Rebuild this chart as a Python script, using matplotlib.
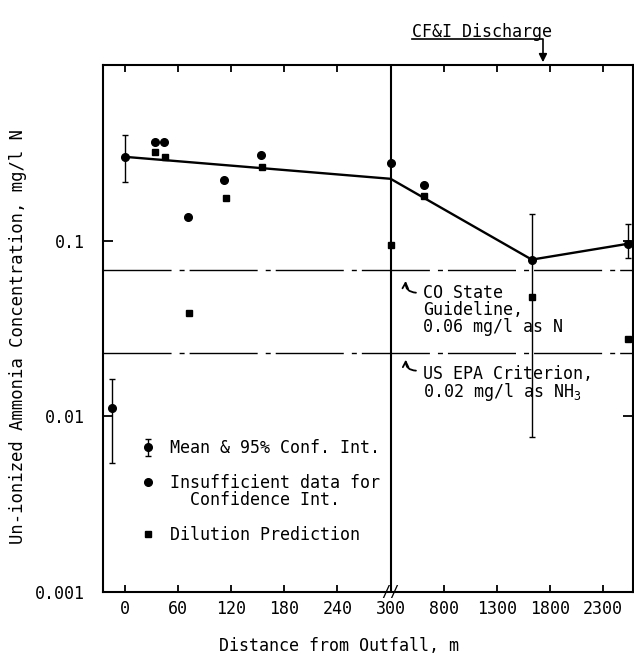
import numpy as np
import matplotlib
matplotlib.use('Agg')
import matplotlib.pyplot as plt
from matplotlib.lines import Line2D
from matplotlib.ticker import FixedLocator, FixedFormatter, NullLocator

plt.rcParams['font.family'] = ['DejaVu Sans Mono', 'DejaVu Sans']
plt.rcParams['mathtext.fontset'] = 'custom'
plt.rcParams['mathtext.rm'] = 'DejaVu Sans Mono'
plt.rcParams['mathtext.it'] = 'DejaVu Sans Mono'
plt.rcParams['font.size'] = 12

# ---------------- data ----------------
mean_x = [-15, 0, 1630, 2535]
mean_y = [0.0111, 0.30, 0.078, 0.096]
mean_lo = [0.0054, 0.216, 0.0076, 0.080]
mean_hi = [0.0164, 0.40, 0.142, 0.125]

trend_x = [0, 300, 1630, 2535]
trend_y = [0.30, 0.225, 0.078, 0.096]

insuff_x = [34, 44, 71, 112, 154, 300, 617]
insuff_y = [0.366, 0.366, 0.137, 0.221, 0.308, 0.277, 0.207]

dil_x = [34, 45, 72, 114, 155, 300, 617, 1630, 2535]
dil_y = [0.318, 0.300, 0.039, 0.176, 0.263, 0.0946, 0.180, 0.0476, 0.0277]

co_guideline = 0.068
epa_criterion = 0.023
discharge_x = 1735

xticks = [0, 60, 120, 180, 240, 300, 800, 1300, 1800, 2300]
xtick_labels = ['0', '60', '120', '180', '240', '300', '800', '1300', '1800', '2300']
yticks = [0.001, 0.01, 0.1]
ytick_labels = ['0.001', '0.01', '0.1']

BREAK = 300.0
FACTOR = 60.0 / 500.0


def fwd(x):
    x = np.asarray(x, dtype=float)
    return np.where(x <= BREAK, x, BREAK + (x - BREAK) * FACTOR)


def inv(u):
    u = np.asarray(u, dtype=float)
    return np.where(u <= BREAK, u, BREAK + (u - BREAK) / FACTOR)


fig = plt.figure(figsize=(6.34, 6.56), dpi=100)
ax = fig.add_axes([103 / 634, 1 - 592 / 656, 530 / 634, 527 / 656])
ax.set_xscale('function', functions=(fwd, inv))
ax.set_yscale('log')
ax.set_xlim(-25, 2583)
ax.set_ylim(0.001, 1.0)

# reference lines
dash = (49, 5.8, 3.6, 3.6)
ax.axhline(co_guideline, color='k', lw=1.0, dashes=dash)
ax.axhline(epa_criterion, color='k', lw=1.0, dashes=dash)
ax.axvline(BREAK, color='k', lw=1.5)

# trend line
ax.plot(trend_x, trend_y, color='k', lw=1.7, zorder=3)

# data
yerr = [np.array(mean_y) - np.array(mean_lo), np.array(mean_hi) - np.array(mean_y)]
h_mean = ax.errorbar(mean_x, mean_y, yerr=yerr, fmt='o', color='k', ms=5.5,
                     elinewidth=1.0, capsize=2.4, capthick=1.0, zorder=4)
h_ins, = ax.plot(insuff_x, insuff_y, 'o', color='k', ms=5.5, zorder=4)
h_dil, = ax.plot(dil_x, dil_y, 's', color='k', ms=4.6, zorder=4)

# axes styling
for s in ax.spines.values():
    s.set_linewidth(1.5)
ax.xaxis.set_major_locator(FixedLocator(xticks))
ax.xaxis.set_major_formatter(FixedFormatter(xtick_labels))
ax.xaxis.set_minor_locator(NullLocator())
ax.yaxis.set_major_locator(FixedLocator(yticks))
ax.yaxis.set_major_formatter(FixedFormatter(ytick_labels))
ax.yaxis.set_minor_locator(NullLocator())
ax.tick_params(axis='x', which='major', direction='in', top=True, bottom=True,
               length=5, width=1.3, pad=6, labelsize=12)
ax.tick_params(axis='y', which='major', direction='in', left=True, right=True,
               length=7, width=1.3, pad=13, labelsize=12)

ax.set_xlabel('Distance from Outfall, m', fontsize=12)
ax.xaxis.set_label_coords(0.445, -0.085)
ax.set_ylabel('Un-ionized Ammonia Concentration, mg/l N', fontsize=12.4)
ax.yaxis.set_label_coords(-0.143, 0.485)

# axis break mark
ax.text(BREAK, 0.001, '//', ha='center', va='center', fontsize=11,
        clip_on=False, zorder=6)

# guideline annotations
ax.annotate('', xy=(445, 0.0612), xytext=(565, 0.0505),
            arrowprops=dict(arrowstyle='->', color='k', lw=1.3,
                            connectionstyle='arc3,rad=-0.6', mutation_scale=10))
ax.text(605, 0.0565, 'CO State\nGuideline,\n0.06 mg/l as N', ha='left', va='top',
        fontsize=12, linespacing=0.93)
ax.annotate('', xy=(445, 0.0218), xytext=(565, 0.0182),
            arrowprops=dict(arrowstyle='->', color='k', lw=1.3,
                            connectionstyle='arc3,rad=-0.6', mutation_scale=10))
ax.text(605, 0.0197, 'US EPA Criterion,\n0.02 mg/l as NH$_3$', ha='left', va='top',
        fontsize=12, linespacing=0.88)

# CF&I discharge label with underline & arrow
ax.text(502, 1.44, 'CF&I Discharge', ha='left', va='baseline', fontsize=12,
        clip_on=False)
ax.plot([502, discharge_x, discharge_x], [1.397, 1.397, 1.17], color='k', lw=1.2,
        clip_on=False)
ax.annotate('', xy=(discharge_x, 1.0), xytext=(discharge_x, 1.2),
            arrowprops=dict(arrowstyle='-|>', color='k', lw=1.2, mutation_scale=12),
            annotation_clip=False)

# legend
blank = Line2D([], [], linestyle='none')
leg = ax.legend([h_mean, blank, h_ins, blank, blank, h_dil],
                ['Mean & 95% Conf. Int.', ' ', 'Insufficient data for',
                 '  Confidence Int.', ' ', 'Dilution Prediction'],
                loc='upper left', bbox_to_anchor=(0.07, 0.29), frameon=False,
                handlelength=1.0, handletextpad=0.8, labelspacing=-0.04,
                borderpad=0, borderaxespad=0, numpoints=1, fontsize=12)

fig.savefig('out.png', dpi=100, facecolor='white')
